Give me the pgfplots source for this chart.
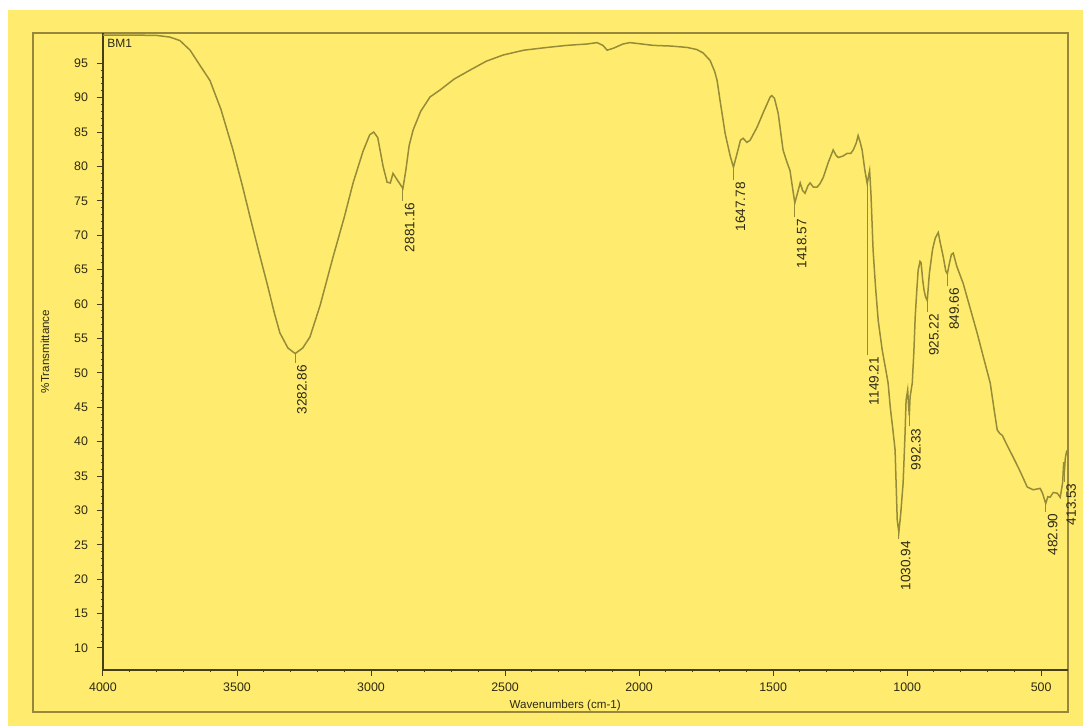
\documentclass[border=0pt]{standalone}
\usepackage{fontspec}
\setmainfont{Liberation Sans}
\usepackage{pgfplots}
\usepackage{pgfplotstable}
\pgfplotsset{compat=1.18}
\definecolor{bgyellow}{RGB}{255,236,110}
\definecolor{curvecol}{RGB}{150,140,55}
\definecolor{axisdark}{RGB}{70,62,25}
\definecolor{txt}{RGB}{45,42,20}
\definecolor{framecol}{RGB}{150,135,60}

\pgfplotstableread{
w T
4000 99.1
3900 99.1
3800 99.05
3750 98.8
3713 98.3
3675 96.9
3640 94.8
3601 92.5
3560 88.3
3515 82.4
3480 77.2
3451 72.6
3420 67.8
3388 63.0
3360 58.6
3340 55.8
3310 53.6
3283 52.8
3255 53.6
3228 55.2
3190 59.8
3142 66.8
3100 72.6
3067 77.6
3030 82.2
3005 84.6
2990 85.0
2975 84.2
2955 80.0
2940 77.7
2928 77.6
2918 79.0
2905 78.2
2881 76.8
2870 79.5
2858 83.0
2843 85.3
2815 88.0
2780 90.1
2743 91.1
2690 92.7
2631 94.0
2570 95.3
2507 96.2
2430 96.9
2343 97.3
2270 97.6
2194 97.8
2157 98.0
2135 97.6
2119 96.9
2095 97.2
2060 97.8
2034 98.0
1990 97.8
1948 97.6
1880 97.5
1821 97.3
1785 97.0
1761 96.5
1735 95.4
1718 93.8
1709 92.5
1698 89.6
1679 84.8
1660 81.5
1648 79.9
1635 81.8
1622 83.8
1612 84.1
1598 83.5
1586 83.8
1560 85.7
1535 88.0
1511 90.1
1505 90.3
1495 89.9
1481 87.7
1463 82.4
1450 80.8
1437 79.4
1428 77.0
1419 74.7
1410 76.0
1399 77.6
1390 76.5
1381 76.1
1370 77.2
1362 77.6
1350 77.0
1336 77.0
1325 77.5
1313 78.4
1295 80.5
1276 82.4
1265 81.6
1257 81.3
1240 81.5
1224 81.9
1210 81.9
1201 82.4
1190 83.4
1183 84.5
1175 83.5
1168 82.4
1158 79.5
1149 77.5
1143 78.8
1140 79.4
1135 76.0
1127 67.8
1118 62.5
1108 57.6
1093 53.3
1080 50.5
1071 48.5
1063 45.0
1054 42.0
1045 38.8
1037 28.6
1031 26.8
1024 29.5
1015 34.0
1008 41.0
1004 46.0
998 47.5
995 45.5
992 43.8
989 46.5
981 48.5
975 53.0
970 58.1
964 62.0
959 64.9
952 66.2
948 66.0
942 63.5
937 62.0
931 61.0
925 60.5
917 64.5
905 68.0
895 69.6
884 70.4
876 68.8
865 66.8
856 64.8
850 64.4
843 65.8
835 67.2
828 67.4
815 65.5
791 63.0
765 59.4
739 55.8
715 52.2
690 48.5
675 44.5
664 41.7
655 41.2
645 40.9
625 39.3
604 37.7
580 35.8
552 33.4
530 33.0
504 33.2
495 32.5
483 31.0
475 32.0
467 31.9
455 32.6
440 32.5
429 31.9
420 34.0
416 37.0
413.5 35.6
410 37.6
405 38.6
400 38.8
}\spectrum

\pgfplotstableread{
x y e lab
3282.86 51.4 1.4 3282.86
2881.16 75.0 1.8 2881.16
1647.78 78.0 1.9 1647.78
1418.57 72.6 2.1 1418.57
1149.21 52.6 24.9 1149.21
1030.94 25.8 1.0 1030.94
992.33 42.2 1.6 992.33
925.22 58.8 1.7 925.22
849.66 62.6 1.8 849.66
482.90 29.8 1.2 482.90
413.53 34.2 1.4 413.53
}\peaks

\begin{document}
\begin{tikzpicture}
\fill[white] (-51.5pt,-28pt) rectangle (490pt,335pt);
\fill[bgyellow] (-47.5pt,-28pt) rectangle (490pt,330pt);
\draw[framecol, line width=0.6pt] (-35pt,-21pt) rectangle (482.5pt,318.5pt);
\useasboundingbox (-51.5pt,-28pt) rectangle (490pt,335pt);
\begin{axis}[
  at={(0pt,0pt)}, anchor=south west,
  scale only axis, width=482.5pt, height=318.5pt,
  x dir=reverse, xmin=400, xmax=4000, ymin=6.8, ymax=99.4,
  clip=false,
  axis x line=bottom, axis y line=left,
  axis line style={axisdark, line width=1pt, -},
  every outer x axis line/.append style={-},
  every outer y axis line/.append style={-},
  xtick={500,1000,1500,2000,2500,3000,3500,4000},
  ytick={10,15,...,95},
  minor x tick num=4, minor y tick num=4,
  tick align=outside,
  major tick length=3pt, minor tick length=1.2pt,
  tick style={axisdark, line width=0.5pt},
  ticklabel style={font=\fontsize{6.2}{7}\selectfont, text=txt},
  yticklabel style={xshift=-1pt},
  /pgf/number format/assume math mode=true,
  /pgf/number format/1000 sep={},
  xlabel={Wavenumbers (cm-1)}, ylabel={\%Transmittance},
  label style={font=\fontsize{5.8}{7}\selectfont, text=txt},
  xlabel style={at={(axis description cs:0.479,-0.055)}, anchor=center},
  ylabel style={at={(axis description cs:-0.060,0.5)}, anchor=center},
]
\addplot[curvecol, line width=0.75pt, mark=none] table[x=w, y=T] {\spectrum};
\addplot[draw=none, mark=none, forget plot,
  error bars/.cd, y dir=plus, y explicit, error mark=none,
  error bar style={draw=curvecol, line width=0.5pt}]
  table[x=x, y=y, y error=e] {\peaks};
\addplot[draw=none, mark=none, forget plot, nodes near coords,
  point meta=explicit symbolic,
  nodes near coords style={anchor=north east, rotate=90,
    font=\fontsize{6.8}{7}\selectfont, text=txt, inner sep=0.8pt}]
  table[x=x, y=y, meta=lab] {\peaks};
\node[anchor=north west, font=\fontsize{6}{7}\selectfont, text=txt, inner sep=0.5pt]
  at (axis description cs:0.003,0.993) {BM1};
\end{axis}
\end{tikzpicture}
\end{document}
